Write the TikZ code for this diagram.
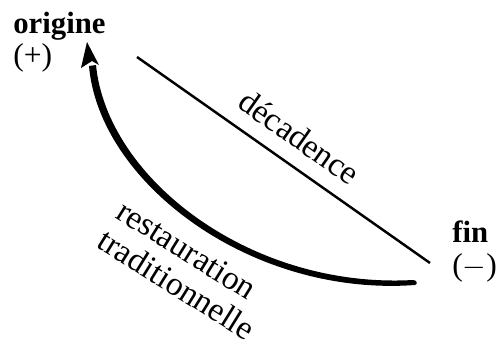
\documentclass[tikz,border=0pt]{standalone}
\usepackage{fontspec}
\setmainfont{Liberation Serif}
\usepackage{tikz}
\usetikzlibrary{positioning}

\begin{document}
\begin{tikzpicture}[
    x=0.02cm, y=-0.02cm,
    lbl/.style={font=\fontsize{19}{20}\selectfont, inner sep=0pt},
    head/.style={font=\fontsize{17.5}{19}\selectfont\bfseries, inner sep=0pt},
    sign/.style={font=\fontsize{18}{19}\selectfont, inner sep=0pt},
    decline/.style={line width=1.4pt},
    restfill/.style={fill=black},
  ]
    \useasboundingbox (0,0) rectangle (498,345);

    % Nodes
    \node[head, anchor=base west] (origine) at (13,33) {origine};
    \node[sign, below=0.66cm of origine.base west, anchor=base west] (plus) {(+)};
    \node[head, anchor=base west] (fin) at (452,242) {fin};
    \node[sign, below=0.68cm of fin.base west, anchor=base west] (minus) {($-$)};

    % End points
    \coordinate (decStart) at (137,57);
    \coordinate (decEnd) at (430,263);
    \coordinate (restStart) at (415,285);
    \coordinate (restTip) at (87,42);

    % Decline line
    \draw[decline] (decStart) -- node[lbl, sloped, above=0.3cm] (dec) {décadence} (decEnd);

    % Restoration arrow (tapered)
    \fill[restfill] (restStart) .. controls (250,297) and (99,182) .. (89,66)
        -- (96,65) .. controls (107,178) and (250,289) .. (413,280)
        .. controls (417,280) and (418,284) .. cycle;
    \fill[restfill] (restTip) -- (99,65) -- (92,61) -- (81,68) -- cycle;

    % Labels
    \node[lbl, align=left, rotate=-32] (rest) at (186,270)
        {restauration\\traditionnelle};
\end{tikzpicture}
\end{document}
